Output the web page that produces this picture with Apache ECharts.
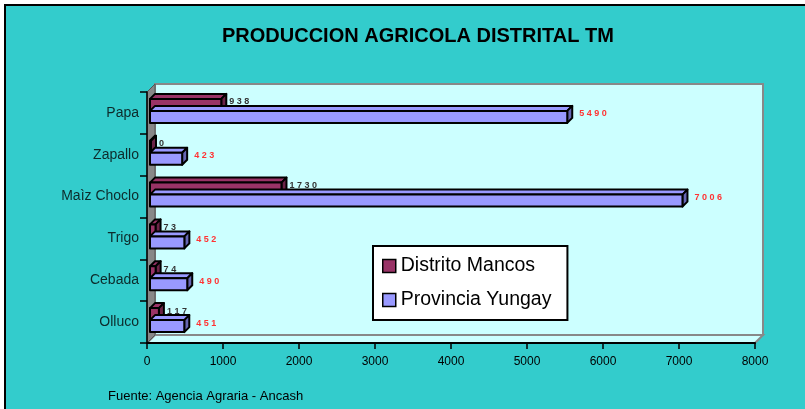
<!DOCTYPE html>
<html>
<head>
<meta charset="utf-8">
<title>Produccion agricola distrital</title>
<script src="https://cdn.jsdelivr.net/npm/echarts@6/dist/echarts.min.js"></script>
<style>
  html, body { margin: 0; padding: 0; background: #fff; }
  #chart { width: 805px; height: 409px; }
</style>
</head>
<body>
<div id="chart"></div>
<script>
var categories = ['Papa', 'Zapallo', 'Maìz Choclo', 'Trigo', 'Cebada', 'Olluco'];
var mancos = [938, 0, 1730, 73, 74, 117];
var yungay = [5490, 423, 7006, 452, 490, 451];
var xTicks = [0, 8000, 1000];

// grid box (front plane) and the 3d depth of the walls
var L = 147, R = 755, T = 92, B = 343, D = 8;

var chart = echarts.init(document.getElementById('chart'), null, { renderer: 'canvas' });

function spaced(v) {
  return String(v).split('').join(' ');
}

function bar3d(params, api) {
  var idx = api.value(1);
  var v = api.value(0);
  var p0 = api.coord([0, idx]);
  var p1 = api.coord([v, idx]);
  var c = p0[1];
  var first = params.seriesIndex === 0;
  var h = 12, d = 5;
  var top = c + (first ? -14 : -2);
  var bottom = top + h;
  var x0 = p0[0] + 3;
  var x1 = Math.max(p1[0] + 3, x0 + 1);
  var col = api.visual('color');
  var dark = first ? '#6b2447' : '#6666b3';
  var stroke = { stroke: '#000', lineWidth: 2, lineJoin: 'round' };
  return {
    type: 'group',
    children: [
      { type: 'polygon', shape: { points: [[x0, top], [x0 + d, top - d], [x1 + d, top - d], [x1, top]] },
        style: Object.assign({ fill: col }, stroke) },
      { type: 'polygon', shape: { points: [[x1, top], [x1 + d, top - d], [x1 + d, bottom - d], [x1, bottom]] },
        style: Object.assign({ fill: dark }, stroke) },
      { type: 'rect', shape: { x: x0, y: top, width: x1 - x0, height: h },
        style: Object.assign({ fill: col }, stroke) },
      { type: 'text', x: x1 + d + (first ? 3 : 7), y: first ? c - 11 : c + 1,
        style: { text: spaced(v), fill: first ? '#333' : '#ff3333', font: 'bold 9px "Liberation Sans", Arial',
                 verticalAlign: 'middle', align: 'left' } }
    ]
  };
}

var option = {
  backgroundColor: '#fff',
  animation: false,
  title: [
    { text: 'PRODUCCION AGRICOLA DISTRITAL TM', left: 217, top: 21,
      textStyle: { fontFamily: 'Liberation Sans, Arial', fontSize: 20, fontWeight: 'bold', color: '#000' } },
    { text: 'Fuente: Agencia Agraria - Ancash', left: 103, top: 385,
      textStyle: { fontFamily: 'Liberation Sans, Arial', fontSize: 13, fontWeight: 'normal', color: '#000' } }
  ],
  graphic: [
    { type: 'rect', z: -10, shape: { x: 5, y: 5, width: 820, height: 420 },
      style: { fill: '#33cccc', stroke: '#000', lineWidth: 2 } },
    { type: 'rect', z: -9, shape: { x: L + D, y: T - D, width: R - L, height: B - T },
      style: { fill: '#ccffff', stroke: '#888', lineWidth: 2 } },
    { type: 'polygon', z: -8, shape: { points: [[L, B], [L + D, B - D], [R + D, B - D], [R, B]] },
      style: { fill: '#ccffff', stroke: '#888', lineWidth: 2 } },
    { type: 'polygon', z: -8, shape: { points: [[L, T], [L + D, T - D], [L + D, B - D], [L, B]] },
      style: { fill: '#888', stroke: '#555', lineWidth: 1 } }
  ],
  legend: {
    orient: 'vertical',
    left: 373, top: 246,
    backgroundColor: '#fff',
    borderColor: '#000', borderWidth: 2,
    padding: [10, 16, 10, 9],
    itemGap: 14,
    itemWidth: 13, itemHeight: 13,
    icon: 'rect',
    itemStyle: { borderColor: '#000', borderWidth: 1.5 },
    textStyle: { fontFamily: 'Liberation Sans, Arial', fontSize: 19.5, color: '#000' },
    data: ['Distrito Mancos', 'Provincia Yungay']
  },
  grid: { left: L, right: 805 - R, top: T, bottom: 409 - B },
  xAxis: {
    type: 'value', min: xTicks[0], max: xTicks[1], interval: xTicks[2],
    axisLine: { show: true, lineStyle: { color: '#000', width: 2 } },
    axisTick: { show: true, length: 6, lineStyle: { color: '#000', width: 1.5 } },
    axisLabel: { color: '#000', fontSize: 12, margin: 13, fontFamily: 'Liberation Sans, Arial',
                 formatter: function (v) { return String(v); } },
    splitLine: { show: false }
  },
  yAxis: {
    type: 'category', data: categories, inverse: true,
    axisLine: { show: true, lineStyle: { color: '#000', width: 1.5 } },
    axisTick: { show: true, length: 7, lineStyle: { color: '#000', width: 1.5 } },
    axisLabel: { color: '#0d2b2b', fontSize: 14, margin: 8, fontFamily: 'Liberation Sans, Arial' }
  },
  series: [
    { name: 'Distrito Mancos', type: 'custom', renderItem: bar3d, z: 3,
      itemStyle: { color: '#993366' }, encode: { x: 0, y: 1 },
      data: mancos.map(function (v, i) { return [v, i]; }) },
    { name: 'Provincia Yungay', type: 'custom', renderItem: bar3d, z: 4,
      itemStyle: { color: '#9999ff' }, encode: { x: 0, y: 1 },
      data: yungay.map(function (v, i) { return [v, i]; }) }
  ]
};

chart.setOption(option);
</script>
</body>
</html>
